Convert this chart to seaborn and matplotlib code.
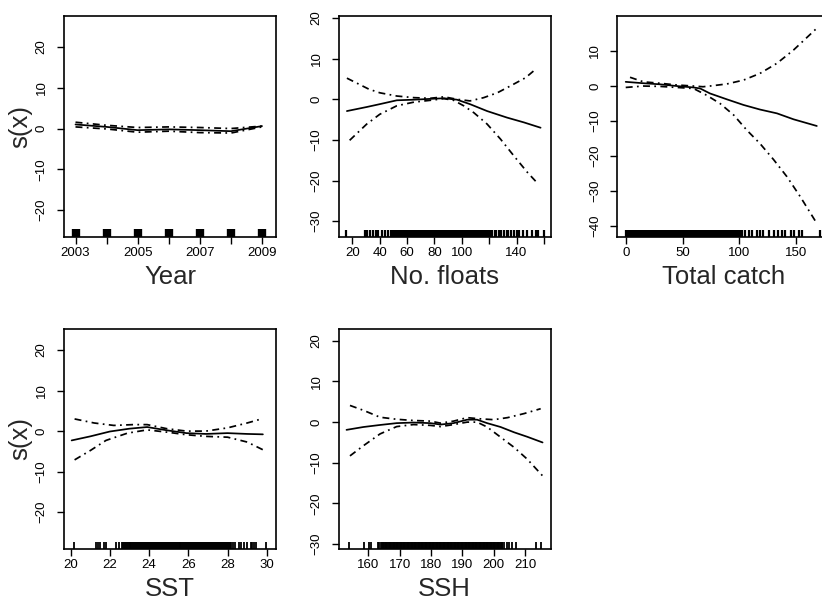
import numpy as np
import pandas as pd
import seaborn as sns
import matplotlib
matplotlib.use("Agg")
import matplotlib.pyplot as plt

# --- Year ---
year_x = [2003, 2004, 2005, 2006, 2007, 2008, 2009]
year_fit = [1.0, 0.4, -0.4, -0.2, -0.4, -0.65, 0.6]
year_up = [1.55, 0.8, 0.25, 0.4, 0.25, 0.0, 0.6]
year_lo = [0.4, -0.1, -0.9, -0.65, -1.0, -1.1, 0.4]
year_rug = [2003, 2004, 2005, 2006, 2007, 2008, 2009]

# --- No. floats ---
floats_x = [16, 30.5, 40, 52.5, 65, 77, 87, 96.5, 106, 118.5, 133, 145.5, 157.6]
floats_fit = [-2.9, -1.9, -1.2, -0.25, -0.1, 0.1, 0.25, -0.1, -1.2, -2.9, -4.5, -5.7, -7.0]
floats_up_x = [16, 32, 40, 52.5, 65, 77, 87, 96.5, 106, 116, 126, 135.6, 146.6, 154]
floats_up = [5.2, 2.5, 1.6, 0.8, 0.4, 0.25, 0.6, 0.0, -0.4, 0.4, 1.6, 3.3, 5.3, 7.4]
floats_lo_x = [18, 30.5, 40, 52.5, 65, 77, 87, 94, 101.4, 108.8, 118.5, 128.3, 138, 148, 156]
floats_lo = [-10.1, -6.1, -3.7, -1.6, -0.7, -0.25, 0.15, -0.25, -1.6, -3.3, -6.1, -9.8, -13.9, -18, -20.9]
floats_rug_sparse = [15, 29, 31, 33, 35, 37, 39, 42, 44, 46, 48, 50,
                     122, 124, 125, 127, 129, 131, 133, 134, 136, 138, 140,
                     142, 145, 148, 151, 154, 156, 160]
floats_rug_dense = (51, 121)  # every integer value observed in this range

# --- Total catch ---
catch_x = [0, 15.6, 30, 45, 59.6, 65.5, 74, 89, 103.6, 118, 133, 147.6, 168]
catch_fit = [1.2, 0.8, 0.5, 0.0, -0.4, -0.7, -2.1, -3.8, -5.4, -6.7, -7.8, -9.5, -11.4]
catch_up_x = [3.8, 15.6, 30, 45, 59.6, 68, 74, 89, 103.6, 118, 133, 147.6, 169.6]
catch_up = [2.5, 1.2, 0.8, 0.3, 0.0, -0.2, 0.0, 0.6, 1.7, 3.6, 6.5, 10.3, 17.0]
catch_lo_x = [0, 15.6, 30, 45, 59.6, 71, 83, 95, 106.5, 118, 130, 141.8, 153.5, 168]
catch_lo = [-0.4, 0.0, -0.1, -0.4, -0.7, -2.6, -5.0, -8.3, -12.6, -16.4, -21.0, -25.9, -31.6, -39.2]
catch_rug_sparse = [102, 105, 108, 111, 115, 118, 121, 126, 130, 134, 137,
                    140, 145, 148, 152, 155, 171]
catch_rug_dense = [(0, 89), (91, 101)]

# --- SST ---
sst_x = [20.05, 21, 22, 23, 23.9, 24.9, 25.9, 26.9, 28, 29, 29.8]
sst_fit = [-2.3, -1.3, -0.1, 0.6, 1.0, 0.2, -0.5, -0.7, -0.5, -0.7, -0.8]
sst_up_x = [20.2, 21.2, 22.2, 23.2, 23.9, 24.9, 25.9, 26.9, 28, 29, 29.8]
sst_up = [3.0, 2.0, 1.4, 1.6, 1.6, 0.6, 0.0, 0.0, 0.8, 2.0, 3.1]
sst_lo_x = [20.2, 21, 21.8, 22.9, 23.9, 24.9, 25.9, 26.9, 28, 29, 29.8]
sst_lo = [-7.1, -4.8, -2.3, -0.5, 0.3, -0.25, -0.9, -1.3, -1.5, -2.7, -4.6]
sst_rug_sparse = [20.17, 21.3, 21.4, 21.5, 21.7, 21.8, 22.3, 22.45,
                  28.27, 28.4, 28.6, 28.7, 28.85, 29.0, 29.2, 29.25,
                  29.35, 29.45, 29.95]
sst_rug_dense = (22.6, 28.2)

# --- SSH ---
ssh_x = [153, 158.4, 163.7, 169, 174.4, 179.8, 183, 187.2, 191.5, 194.7, 197.9, 202.2, 206.5, 210.7, 215.6]
ssh_fit = [-1.9, -1.2, -0.7, -0.25, -0.1, -0.25, -0.6, -0.25, 0.6, 0.6, -0.25, -1.2, -2.5, -3.6, -5.0]
ssh_up_x = [154.1, 158.4, 163.7, 169, 174.4, 179.8, 183, 187.2, 191.5, 195.8, 200, 204.4, 209.7, 215]
ssh_up = [4.1, 2.9, 1.2, 0.7, 0.4, 0.25, -0.25, 0.25, 1.1, 0.8, 0.6, 1.1, 2.1, 3.3]
ssh_lo_x = [154.1, 158.4, 163.7, 169, 174.4, 179.8, 183, 187.2, 191.5, 194.7, 197.9, 202.2, 206.5, 210.7, 215.6]
ssh_lo = [-8.3, -5.8, -2.9, -1.1, -0.6, -0.8, -1.1, -0.6, 0.0, 0.0, -1.2, -3.7, -6.2, -9.1, -13.2]
ssh_rug_sparse = [153.7, 158.7, 160.3, 160.9, 163, 163.5,
                  203.3, 204.2, 204.9, 206, 207, 213.5, 215.1]
ssh_rug_dense = (164, 202.8)


def curves(fx, fy, ux, uy, lx, ly):
  parts = [pd.DataFrame({'x': fx, 's': fy, 'curve': 'fit'}),
           pd.DataFrame({'x': ux, 's': uy, 'curve': 'upper'}),
           pd.DataFrame({'x': lx, 's': ly, 'curve': 'lower'})]
  return pd.concat(parts, ignore_index=True)


def draw(ax, df, rug, xlim, ylim, xticks, xlabels, yticks, xlab, ylab=None,
         rug_lw=0.8, rug_h=0.03):
  dd = (4, 2.5, 1, 2.5)
  sns.lineplot(data=df, x='x', y='s', style='curve', color='black',
               dashes={'fit': '', 'upper': dd, 'lower': dd}, linewidth=1.25,
               legend=False, ax=ax, estimator=None, sort=False)
  sns.rugplot(x=rug, ax=ax, height=rug_h, color='black', linewidth=rug_lw,
              expand_margins=False)
  ax.set_xlim(*xlim)
  ax.set_ylim(*ylim)
  ax.set_xticks(xticks)
  ax.set_xticklabels(xlabels)
  ax.set_yticks(yticks)
  ax.set_yticklabels([str(t).replace('-', '\u2212') for t in yticks])
  ax.tick_params(axis='both', direction='out', length=5, width=1,
                 labelsize=9.5, color='black', labelcolor='black')
  ax.tick_params(axis='x', pad=2)
  ax.tick_params(axis='y', pad=11)
  # R-style vertical y tick labels, centred on their anchor
  for lab in ax.get_yticklabels():
    lab.set_rotation(90)
    lab.set_rotation_mode('anchor')
    lab.set_ha('center')
    lab.set_va('center')
  for sp in ax.spines.values():
    sp.set_visible(True)
    sp.set_linewidth(1.2)
    sp.set_color('black')
  ax.set_xlabel(xlab, fontsize=18.5)
  ax.xaxis.set_label_coords(0.5, -0.125)
  if ylab:
    ax.set_ylabel(ylab, fontsize=18.5)
    ax.yaxis.set_label_coords(-0.15, 0.5)
  else:
    ax.set_ylabel('')


sns.set_style('ticks')
plt.rcParams['font.family'] = ['Liberation Sans', 'DejaVu Sans']

fig = plt.figure(figsize=(8.22, 6.07), dpi=100)
W, H = 822, 607


def pos(left, top, width, height):
  return [left / W, (H - top - height) / H, width / W, height / H]


ax1 = fig.add_axes(pos(64, 16, 212, 221))
ax2 = fig.add_axes(pos(338.7, 16, 212, 221))
ax3 = fig.add_axes(pos(617.3, 16, 212, 221))
ax4 = fig.add_axes(pos(64, 329, 212, 220))
ax5 = fig.add_axes(pos(338.7, 329, 212, 220))

draw(ax1, curves(year_x, year_fit, year_x, year_up, year_x, year_lo), year_rug,
     (2002.63, 2009.45), (-26.6, 27.6), year_x,
     ['2003', '', '2005', '', '2007', '', '2009'], [-20, -10, 0, 10, 20],
     'Year', 's(x)', rug_lw=6, rug_h=0.036)

floats_rug = floats_rug_sparse + list(range(floats_rug_dense[0], floats_rug_dense[1] + 1))
draw(ax2, curves(floats_x, floats_fit, floats_up_x, floats_up, floats_lo_x, floats_lo),
     floats_rug, (10, 165), (-33.9, 20.5), [20, 40, 60, 80, 100, 120, 140, 160],
     ['20', '40', '60', '80', '100', '', '140', ''], [-30, -20, -10, 0, 10, 20],
     'No. floats', rug_lw=1.6)

catch_rug = list(catch_rug_sparse)
for a, b in catch_rug_dense:
  catch_rug += list(range(a, b + 1))
draw(ax3, curves(catch_x, catch_fit, catch_up_x, catch_up, catch_lo_x, catch_lo),
     catch_rug, (-7.4, 179), (-43.1, 20), [0, 50, 100, 150],
     ['0', '50', '100', '150'], [-40, -30, -20, -10, 0, 10],
     'Total catch', rug_lw=1.6)

sst_rug = sst_rug_sparse + list(np.arange(sst_rug_dense[0], sst_rug_dense[1], 0.05))
draw(ax4, curves(sst_x, sst_fit, sst_up_x, sst_up, sst_lo_x, sst_lo),
     sst_rug, (19.66, 30.47), (-29.1, 25.2), [20, 22, 24, 26, 28, 30],
     ['20', '22', '24', '26', '28', '30'], [-20, -10, 0, 10, 20],
     'SST', 's(x)', rug_lw=1.3)

ssh_rug = ssh_rug_sparse + list(np.arange(ssh_rug_dense[0], ssh_rug_dense[1], 0.25))
draw(ax5, curves(ssh_x, ssh_fit, ssh_up_x, ssh_up, ssh_lo_x, ssh_lo),
     ssh_rug, (150.5, 218.2), (-31.2, 22.9), [160, 170, 180, 190, 200, 210],
     ['160', '170', '180', '190', '200', '210'], [-30, -20, -10, 0, 10, 20],
     'SSH', rug_lw=1.3)

fig.savefig('out.png', dpi=100)
